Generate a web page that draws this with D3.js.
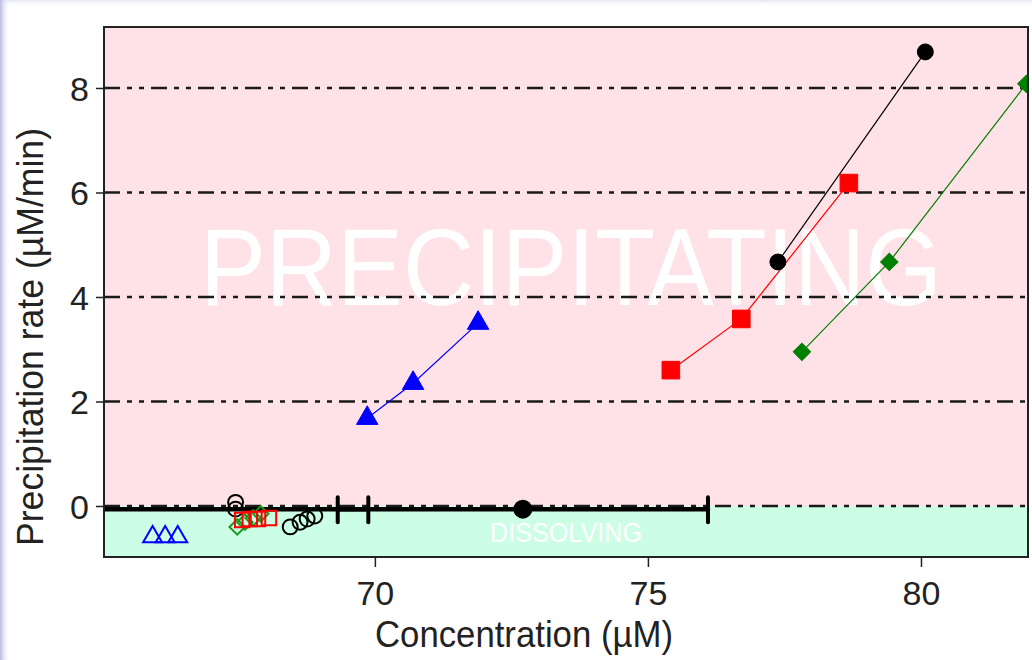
<!DOCTYPE html>
<html>
<head>
<meta charset="utf-8">
<script src="https://cdn.jsdelivr.net/npm/d3@7"></script>
<style>
  html, body { margin: 0; padding: 0; background: #fff; }
  svg { display: block; }
  text { font-family: "Liberation Sans", Arial, sans-serif; }
</style>
</head>
<body>
<svg id="chart" width="1032" height="660"></svg>
<script>
// ---- data ----
const xTicks = [70, 75, 80];
const yTicks = [0, 2, 4, 6, 8];

// precipitating runs (filled markers)
const blueX  = [69.86, 70.70, 71.89];
const blueY  = [1.68, 2.35, 3.50];
const redX   = [75.42, 76.71, 78.68];
const redY   = [2.60, 3.58, 6.18];
const blackX = [77.38, 80.08];
const blackY = [4.67, 8.69];
const greenX = [77.82, 79.42, 81.93];
const greenY = [2.95, 4.67, 8.08];

// dissolving runs (open markers)
const openBlueX   = [65.93, 66.16, 66.39];
const openBlueY   = [-0.59, -0.59, -0.59];
const openRedX    = [67.57, 67.71, 67.86, 68.06];
const openRedY    = [-0.27, -0.25, -0.25, -0.23];
const openGreenX  = [67.48, 67.62, 67.77, 67.91];
const openGreenY  = [-0.40, -0.31, -0.23, -0.15];
const openBlackX  = [67.45, 67.45, 68.45, 68.63, 68.76, 68.90];
const openBlackY  = [0.07, -0.06, -0.40, -0.31, -0.25, -0.19];

// zero-rate points with horizontal error bars
const zeroX    = [67.45, 72.71];
const zeroY    = [-0.06, -0.06];
const zeroErr  = [2.43, 3.39];
const zeroOpen = [true, false];

// ---- layout ----
const svg = d3.select("#chart");
const pLeft = 104, pRight = 1028, pTop = 27, pBottom = 557;
const x = d3.scaleLinear().domain([65.04, 81.96]).range([pLeft, pRight]);
const y = d3.scaleLinear().domain([-0.976, 9.167]).range([pBottom, pTop]);

// soft lavender edge of the slide background
const defs = svg.append("defs");
const gl = defs.append("linearGradient").attr("id", "edgeL").attr("x1", 0).attr("x2", 1).attr("y1", 0).attr("y2", 0);
gl.append("stop").attr("offset", "0%").attr("stop-color", "#b9b9e2");
gl.append("stop").attr("offset", "100%").attr("stop-color", "#ffffff").attr("stop-opacity", 0);
const gt = defs.append("linearGradient").attr("id", "edgeT").attr("x1", 0).attr("x2", 0).attr("y1", 0).attr("y2", 1);
gt.append("stop").attr("offset", "0%").attr("stop-color", "#e4e4f4");
gt.append("stop").attr("offset", "100%").attr("stop-color", "#ffffff").attr("stop-opacity", 0);
svg.append("rect").attr("width", 1032).attr("height", 660).attr("fill", "#fff");
svg.append("rect").attr("width", 1032).attr("height", 7).attr("fill", "url(#edgeT)");
svg.append("rect").attr("width", 10).attr("height", 660).attr("fill", "url(#edgeL)");

defs.append("clipPath").attr("id", "plotClip")
  .append("rect").attr("x", pLeft).attr("y", pTop).attr("width", pRight - pLeft).attr("height", pBottom - pTop);

// regions: precipitating above zero, dissolving below
svg.append("rect").attr("x", pLeft).attr("y", pTop).attr("width", pRight - pLeft).attr("height", y(0) - pTop).attr("fill", "#ffe1e8");
svg.append("rect").attr("x", pLeft).attr("y", y(0)).attr("width", pRight - pLeft).attr("height", pBottom - y(0)).attr("fill", "#ccfee6");

svg.append("text").attr("x", 571).attr("y", 305)
  .attr("text-anchor", "middle").attr("font-size", 110).attr("fill", "#fff")
  .attr("textLength", 742).attr("lengthAdjust", "spacingAndGlyphs")
  .text("PRECIPITATING");
svg.append("text").attr("x", 566).attr("y", 542)
  .attr("text-anchor", "middle").attr("font-size", 27).attr("fill", "#fff")
  .attr("textLength", 152).attr("lengthAdjust", "spacingAndGlyphs")
  .text("DISSOLVING");

// dash-dot gridlines
svg.append("g").selectAll("line").data(yTicks).join("line")
  .attr("x1", pLeft).attr("x2", pRight)
  .attr("y1", d => y(d)).attr("y2", d => y(d))
  .attr("stroke", "#1a1a1a").attr("stroke-width", 2.5)
  .attr("stroke-dasharray", "16,7,5,7,5,7");

const plot = svg.append("g").attr("clip-path", "url(#plotClip)");

// horizontal error bars on the zero line
const zeroPts = zeroX.map((v, i) => ({ x: v, y: zeroY[i], e: zeroErr[i], open: zeroOpen[i] }));
const eb = plot.append("g").attr("stroke", "#000").attr("stroke-linecap", "round");
eb.selectAll(".bar").data(zeroPts).join("line")
  .attr("x1", d => x(d.x - d.e)).attr("x2", d => x(d.x + d.e))
  .attr("y1", d => y(d.y)).attr("y2", d => y(d.y)).attr("stroke-width", 4.5);
eb.selectAll(".capL").data(zeroPts).join("line")
  .attr("x1", d => x(d.x - d.e)).attr("x2", d => x(d.x - d.e))
  .attr("y1", d => y(d.y) - 12).attr("y2", d => y(d.y) + 13).attr("stroke-width", 4);
eb.selectAll(".capR").data(zeroPts).join("line")
  .attr("x1", d => x(d.x + d.e)).attr("x2", d => x(d.x + d.e))
  .attr("y1", d => y(d.y) - 12).attr("y2", d => y(d.y) + 13).attr("stroke-width", 4);

const zip = (xs, ys) => xs.map((v, i) => [v, ys[i]]);
const line = d3.line().x(d => x(d[0])).y(d => y(d[1]));

// connecting lines
[[blueX, blueY, "#0000ff"], [redX, redY, "#ff0000"], [blackX, blackY, "#000"], [greenX, greenY, "#008000"]]
  .forEach(([xs, ys, c]) => {
    plot.append("path").datum(zip(xs, ys)).attr("d", line)
      .attr("fill", "none").attr("stroke", c).attr("stroke-width", 1.2);
  });

function markers(xs, ys, type, size, color, filled, rot) {
  plot.append("g").selectAll("path").data(zip(xs, ys)).join("path")
    .attr("d", d3.symbol().type(type).size(size))
    .attr("transform", d => `translate(${x(d[0])},${y(d[1])})` + (rot ? ` rotate(${rot})` : ""))
    .attr("fill", filled ? color : "none")
    .attr("stroke", color)
    .attr("stroke-width", filled ? 1 : 2);
}

// open markers (dissolving)
markers(openBlackX, openBlackY, d3.symbolCircle, 175, "#000", false);
markers(openGreenX, openGreenY, d3.symbolSquare, 120, "#1a9a1a", false, 45);
markers(openRedX, openRedY, d3.symbolSquare, 210, "#ff0000", false);
markers(openBlueX, openBlueY, d3.symbolTriangle, 155, "#0000ff", false);

// zero-rate filled point
plot.append("g").selectAll("circle").data(zeroPts.filter(d => !d.open)).join("circle")
  .attr("cx", d => x(d.x)).attr("cy", d => y(d.y)).attr("r", 9.5).attr("fill", "#000");

// filled markers (precipitating)
markers(blueX, blueY, d3.symbolTriangle, 200, "#0000ff", true);
markers(redX, redY, d3.symbolSquare, 310, "#ff0000", true);
markers(blackX, blackY, d3.symbolCircle, 200, "#000", true);
markers(greenX, greenY, d3.symbolSquare, 150, "#008000", true, 45);

// frame
svg.append("rect").attr("x", pLeft).attr("y", pTop).attr("width", pRight - pLeft).attr("height", pBottom - pTop)
  .attr("fill", "none").attr("stroke", "#222").attr("stroke-width", 2);

// axes
const xa = svg.append("g").attr("transform", `translate(0,${pBottom})`)
  .call(d3.axisBottom(x).tickValues(xTicks).tickSize(10).tickFormat(d3.format("d")));
xa.select(".domain").remove();
xa.selectAll("line").attr("stroke", "#222").attr("stroke-width", 1.5);
xa.selectAll("text").attr("y", 48).attr("dy", 0).attr("font-size", 34).attr("fill", "#222")
  .attr("font-family", "Liberation Sans, Arial, sans-serif");

const ya = svg.append("g").attr("transform", `translate(${pLeft},0)`)
  .call(d3.axisLeft(y).tickValues(yTicks).tickSize(8).tickFormat(d3.format("d")));
ya.select(".domain").remove();
ya.selectAll("line").attr("stroke", "#222").attr("stroke-width", 1.5);
ya.selectAll("text").attr("x", -15).attr("dy", "0.36em").attr("font-size", 34).attr("fill", "#222")
  .attr("font-family", "Liberation Sans, Arial, sans-serif");

// axis titles
svg.append("text").attr("x", 524).attr("y", 647).attr("text-anchor", "middle")
  .attr("font-size", 36).attr("fill", "#222")
  .attr("textLength", 298).attr("lengthAdjust", "spacingAndGlyphs")
  .text("Concentration (µM)");
svg.append("text").attr("transform", "translate(43,337) rotate(-90)").attr("text-anchor", "middle")
  .attr("font-size", 36).attr("fill", "#222")
  .attr("textLength", 418).attr("lengthAdjust", "spacingAndGlyphs")
  .text("Precipitation rate (µM/min)");
</script>
</body>
</html>
